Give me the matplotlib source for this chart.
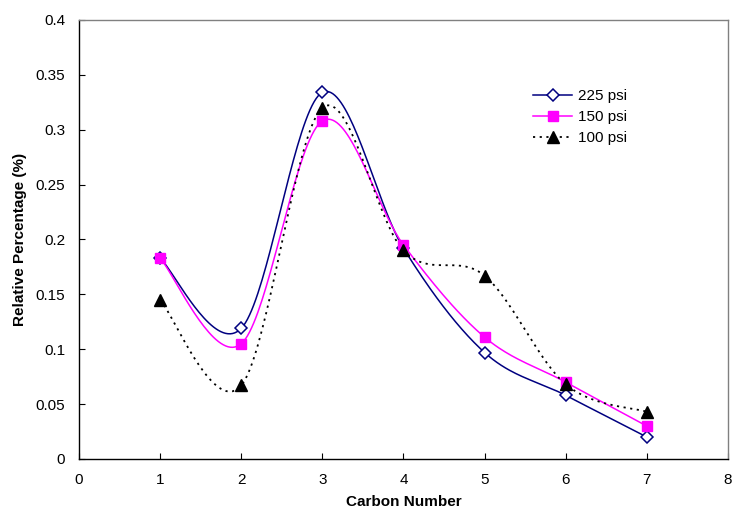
import matplotlib.pyplot as plt
import numpy as np

plt.rcParams['font.family'] = ['Liberation Sans', 'DejaVu Sans']

# Data
carbon = [1, 2, 3, 4, 5, 6, 7]
psi_225 = [0.183, 0.119, 0.334, 0.192, 0.097, 0.058, 0.020]
psi_150 = [0.183, 0.105, 0.308, 0.195, 0.111, 0.070, 0.030]
psi_100 = [0.145, 0.067, 0.320, 0.190, 0.167, 0.068, 0.043]
labels = ['225 psi', '150 psi', '100 psi']


def smooth(x, y, n=40):
    # Excel-like smoothed line: cubic Bezier segments through the points
    p = np.column_stack([x, y]).astype(float)
    pts = []
    for i in range(len(p) - 1):
        p0 = p[i - 1] if i > 0 else p[i]
        p1, p2 = p[i], p[i + 1]
        p3 = p[i + 2] if i + 2 < len(p) else p[i + 1]
        c1 = p1 + (p2 - p0) / 6
        c2 = p2 - (p3 - p1) / 6
        t = np.linspace(0, 1, n)[:, None]
        seg = ((1 - t) ** 3 * p1 + 3 * (1 - t) ** 2 * t * c1
               + 3 * (1 - t) * t ** 2 * c2 + t ** 3 * p2)
        pts.append(seg if i == 0 else seg[1:])
    pts = np.vstack(pts)
    return pts[:, 0], pts[:, 1]


fig = plt.figure(figsize=(7.32, 5.18), dpi=100)
ax = fig.add_axes([0.1079, 0.1139, 0.8866, 0.8475])

series = [
    (psi_225, dict(color='#000080', ls='-', lw=1.1),
     dict(marker='D', ms=6.5, mfc='white', mec='#000080', mew=1.1)),
    (psi_150, dict(color='#FF00FF', ls='-', lw=1.1),
     dict(marker='s', ms=7.5, mfc='#FF00FF', mec='#FF00FF')),
    (psi_100, dict(color='black', ls=(0, (1.2, 2.5)), lw=1.3),
     dict(marker='^', ms=8, mfc='black', mec='black')),
]

handles = []
for (vals, lstyle, mstyle), lab in zip(series, labels):
    sx, sy = smooth(carbon, vals)
    ax.plot(sx, sy, **lstyle, zorder=2)
    ax.plot(carbon, vals, ls='none', **mstyle, zorder=3)
    h, = ax.plot([], [], **lstyle, **mstyle, label=lab)
    handles.append(h)

ax.set_xlim(0, 8)
ax.set_ylim(0, 0.4)
ax.set_xticks(range(0, 9))
ax.set_yticks(np.arange(0, 0.41, 0.05))
ax.set_yticklabels(['0', '0.05', '0.1', '0.15', '0.2', '0.25', '0.3', '0.35', '0.4'])
ax.tick_params(direction='in', length=4, labelsize=11, width=0.8)
ax.tick_params(axis='y', pad=10)
ax.tick_params(axis='x', pad=10)

ax.spines['left'].set_color('black')
ax.spines['bottom'].set_color('black')
ax.spines['top'].set_color('#808080')
ax.spines['right'].set_color('#808080')
for s in ax.spines.values():
    s.set_linewidth(1)

ax.set_xlabel('Carbon Number', fontsize=11, fontweight='bold', labelpad=6)
ax.set_ylabel('Relative Percentage (%)', fontsize=11, fontweight='bold', labelpad=6)

ax.legend(handles=handles, loc='upper left', bbox_to_anchor=(0.678, 0.873),
          frameon=False, fontsize=11, handlelength=2.6, handletextpad=0.35,
          labelspacing=0.45)

fig.savefig('out.png', dpi=100)
